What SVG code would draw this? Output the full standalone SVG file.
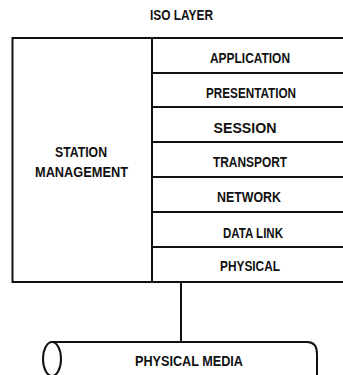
<svg xmlns="http://www.w3.org/2000/svg" width="343" height="375" viewBox="0 0 343 375">
<style>
.ln{fill:none;stroke:#111;stroke-width:2}
.t{font-family:"Liberation Sans",Arial,sans-serif;font-size:14px;font-weight:bold;fill:#111;text-anchor:middle}
</style>
<rect width="343" height="375" fill="#fff"/>
<g id="title"><text class="t" x="181.5" y="20" textLength="63" lengthAdjust="spacingAndGlyphs">ISO LAYER</text></g>
<g id="station-management">
<path class="ln" d="M346,38 H12.5 V282 H152"/>
<text class="t" x="81" y="157" textLength="52" lengthAdjust="spacingAndGlyphs">STATION</text>
<text class="t" x="81.5" y="177" textLength="93" lengthAdjust="spacingAndGlyphs">MANAGEMENT</text>
</g>
<g id="layers">
<path class="ln" d="M152,38 V282 M152,73 H346 M152,107 H346 M152,142 H346 M152,177 H346 M152,212 H346 M152,247 H346 M152,282 H346"/>
<g id="application"><text class="t" x="250" y="62.5" textLength="80" lengthAdjust="spacingAndGlyphs">APPLICATION</text></g>
<g id="presentation"><text class="t" x="251" y="97.5" textLength="90" lengthAdjust="spacingAndGlyphs">PRESENTATION</text></g>
<g id="session"><text class="t" x="245" y="132.5" textLength="63" lengthAdjust="spacingAndGlyphs">SESSION</text></g>
<g id="transport"><text class="t" x="250" y="167" textLength="74" lengthAdjust="spacingAndGlyphs">TRANSPORT</text></g>
<g id="network"><text class="t" x="249" y="202" textLength="64" lengthAdjust="spacingAndGlyphs">NETWORK</text></g>
<g id="datalink"><text class="t" x="253" y="237.5" textLength="60" lengthAdjust="spacingAndGlyphs">DATA LINK</text></g>
<g id="physical"><text class="t" x="250" y="271" textLength="60" lengthAdjust="spacingAndGlyphs">PHYSICAL</text></g>
</g>
<g id="connectors"><path class="ln" d="M181,282 V342"/></g>
<g id="physical-media">
<ellipse class="ln" cx="52" cy="359" rx="9" ry="17"/>
<path class="ln" d="M52,342 H307 Q317,342 317,354 V378"/>
<text class="t" x="189" y="365.5" textLength="108" lengthAdjust="spacingAndGlyphs">PHYSICAL MEDIA</text>
</g>
</svg>
